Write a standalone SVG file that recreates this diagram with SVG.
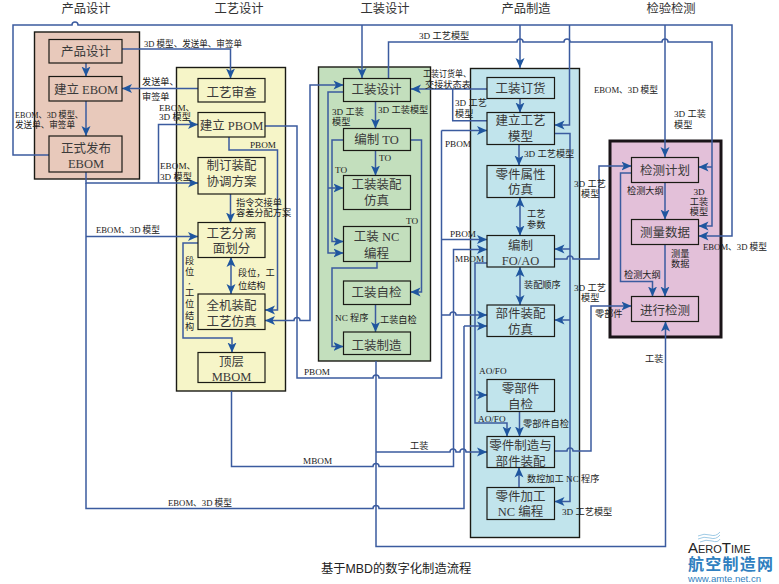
<svg xmlns="http://www.w3.org/2000/svg" width="779" height="584" viewBox="0 0 779 584">
<style>
text{font-family:"Liberation Serif","Noto Sans CJK SC",serif;fill:#2a2a2a}
.h{font-size:12.300px;text-anchor:middle;fill:#333}
.n{font-size:12.500px;text-anchor:middle;fill:#3a3a3a}
.l{font-size:9.200px;fill:#222}
.c{text-anchor:middle}
.box{stroke:#1a1a14;stroke-width:1.2}
.lane{stroke:#1a1a14;stroke-width:1.4}
.w{fill:none;stroke:#3b5b9f;stroke-width:1.500}
.a{marker-end:url(#ah)}
.b{marker-end:url(#ah);marker-start:url(#ahs)}
</style>
<defs>
<marker id="ah" markerUnits="userSpaceOnUse" markerWidth="11" markerHeight="10" refX="10" refY="5" orient="auto"><path d="M0 .5L10 5L0 9.500L2.500 5z" fill="#1f569f"/></marker>
<marker id="ahs" markerUnits="userSpaceOnUse" markerWidth="11" markerHeight="10" refX="0" refY="5" orient="auto"><path d="M10 .5L0 5L10 9.500L7.500 5z" fill="#1f569f"/></marker>
</defs>
<rect width="779" height="584" fill="#fff"/>
<g id="headers">
<text class="h" x="86" y="13">产品设计</text><text class="h" x="239" y="13">工艺设计</text><text class="h" x="385" y="13">工装设计</text><text class="h" x="526" y="13">产品制造</text><text class="h" x="671" y="13">检验检测</text>
</g>
<g id="lanes">
<rect class="lane" x="34.500" y="32" width="105" height="147" fill="#e8c9bb"/>
<rect class="lane" x="176.500" y="67.500" width="109" height="323.500" fill="#f6f5c8"/>
<rect class="lane" x="318.500" y="67" width="112" height="294" fill="#c3dfbd"/>
<rect class="lane" x="470.500" y="68.500" width="109" height="469" fill="#c1e4ec"/>
<rect x="610" y="141" width="111" height="196" fill="#e3c0d9" stroke="#1a1418" stroke-width="3"/>
</g>
<g id="connectors">
<path class="w a" d="M49 155H13V25H72a3 3 0 0 1 6 0H732V236H698.500"/>
<path class="w a" d="M362 25V78"/><path class="w a" d="M520 25V68"/><path class="w a" d="M569.500 25V125H554.500"/><path class="w a" d="M665 25V157"/>
<path class="w a" d="M388.500 78V42H517a3 3 0 0 1 6 0H564a3 3 0 0 1 6 0H662a3 3 0 0 1 6 0H712V226H698.500"/>
<path class="w a" d="M712 167H698.500"/>
<path class="w a" d="M86 63V76.500"/><path class="w a" d="M86 101V136"/>
<path class="w a" d="M122 49H230.500V78.500"/><path class="w a" d="M198 88.500H122"/>
<path class="w a" d="M86 172V183H198"/><path class="w a" d="M158.500 183V124.500H198"/><path class="w a" d="M86 236.500H198"/>
<path class="w" d="M86 183V508.500H373a3 3 0 0 1 6 0H464V326"/><path class="w a" d="M464 326H487"/>
<path class="w" d="M265 126H297V378H373a3 3 0 0 1 6 0H441.500V130.500"/><path class="w a" d="M441.500 130.500H487"/><path class="w a" d="M441.500 239.500H487"/>
<path class="w a" d="M441.500 315H450a3 3 0 0 1 6 0H487"/>
<path class="w a" d="M229 137V150H277.500V310H265"/>
<path class="w a" d="M230.500 194V222.500"/><path class="w b" d="M231 257V294"/>
<path class="w a" d="M198 243H183V338H232V352.500"/>
<path class="w b" d="M343.500 85H310V320.500H300a3 3 0 0 0 -6 0H265"/>
<path class="w a" d="M375.500 101V128.500"/><path class="w a" d="M375.500 150.500V175.500"/><path class="w a" d="M375.500 304.500V332"/>
<path class="w a" d="M377 261.500V268H332V346.500H343.500"/>
<path class="w a" d="M343.500 92H328V253H343.500"/><path class="w a" d="M328 188H343.500"/>
<path class="w a" d="M343.500 140H332V241.500H343.500"/>
<path class="w a" d="M410.500 140H421.500V292H410.500"/>
<path class="w a" d="M376 361V546.500H665.500V321.500"/>
<path class="w a" d="M376 452H450a3 3 0 0 1 6 0H460a3 3 0 0 1 6 0H487"/>
<path class="w a" d="M231.500 391V466.500H373a3 3 0 0 1 6 0H453.500V249.500H487"/>
<path class="w a" d="M487 89H411"/><path class="w" d="M452.700 89V120.700H487"/>
<path class="w a" d="M520 98.500V112.500"/><path class="w a" d="M519 144.500V165.500"/><path class="w b" d="M520 197.500V235.500"/><path class="w b" d="M520 305V267"/>
<path class="w a" d="M519.500 411.500V436.500"/><path class="w a" d="M519 487.500V467.500"/>
<path class="w a" d="M554.500 133.500H570V501.500H554.500"/><path class="w a" d="M570 249H554.500"/><path class="w a" d="M570 320H554.500"/>
<path class="w a" d="M554.500 259H567a3 3 0 0 1 6 0H599V166H631.500"/>
<path class="w a" d="M554.500 451H567a3 3 0 0 1 6 0H591V306H631.500"/>
<path class="w a" d="M487 263H475V423H507V436.500"/><path class="w a" d="M475 395H487"/>
<path class="w a" d="M665 182.500V219.500"/><path class="w a" d="M665 244.500V296.500"/>
<path class="w a" d="M631.500 173H620.500V281.500H652.500V296.500"/>
</g>
<g id="product-nodes">
<g id="n-pd"><rect class="box" x="49" y="39.500" width="73" height="23.500" fill="#e8c9bb"/><text class="n" x="86" y="56.400">产品设计</text></g>
<g id="n-ebom"><rect class="box" x="49" y="76.500" width="73" height="24.500" fill="#e8c9bb"/><text class="n" x="86" y="93.700">建立 EBOM</text></g>
<g id="n-release"><rect class="box" x="49" y="136" width="73" height="36" fill="#e8c9bb"/><text class="n" x="86" y="153">正式发布</text><text class="n" x="86" y="168">EBOM</text></g>
</g>
<g id="process-nodes">
<g id="n-review"><rect class="box" x="198" y="78.500" width="67" height="23.500" fill="#f6f5c8"/><text class="n" x="231.500" y="97.400">工艺审查</text></g>
<g id="n-pbom"><rect class="box" x="198" y="112.500" width="67" height="24.500" fill="#f6f5c8"/><text class="n" x="231.500" y="130.400">建立 PBOM</text></g>
<g id="n-plan"><rect class="box" x="198" y="157.500" width="67" height="36.500" fill="#f6f5c8"/><text class="n" x="231.500" y="170.400">制订装配</text><text class="n" x="231.500" y="186.400">协调方案</text></g>
<g id="n-sep"><rect class="box" x="198" y="222.500" width="67" height="35" fill="#f6f5c8"/><text class="n" x="231.500" y="238">工艺分离</text><text class="n" x="231.500" y="253">面划分</text></g>
<g id="n-sim"><rect class="box" x="198" y="294" width="67" height="35.500" fill="#f6f5c8"/><text class="n" x="231.500" y="309.700">全机装配</text><text class="n" x="231.500" y="326.400">工艺仿真</text></g>
<g id="n-mbom"><rect class="box" x="198" y="352.500" width="67" height="30" fill="#f6f5c8"/><text class="n" x="231.500" y="365.700">顶层</text><text class="n" x="231.500" y="381">MBOM</text></g>
</g>
<g id="tooling-nodes">
<g id="n-tdesign"><rect class="box" x="343.500" y="78.500" width="67" height="23" fill="#c3dfbd"/><text class="n" x="376.500" y="94">工装设计</text></g>
<g id="n-to"><rect class="box" x="343.500" y="128.500" width="67" height="22" fill="#c3dfbd"/><text class="n" x="376.500" y="143.700">编制 TO</text></g>
<g id="n-tsim"><rect class="box" x="343.500" y="175.500" width="67" height="34" fill="#c3dfbd"/><text class="n" x="376.500" y="188.700">工装装配</text><text class="n" x="376.500" y="204.700">仿真</text></g>
<g id="n-tnc"><rect class="box" x="343.500" y="226.500" width="67" height="35" fill="#c3dfbd"/><text class="n" x="376.500" y="241.400">工装 NC</text><text class="n" x="376.500" y="258">编程</text></g>
<g id="n-tcheck"><rect class="box" x="343.500" y="281" width="67" height="23.500" fill="#c3dfbd"/><text class="n" x="376.500" y="297">工装自检</text></g>
<g id="n-tmake"><rect class="box" x="343.500" y="332" width="67" height="22.500" fill="#c3dfbd"/><text class="n" x="376.500" y="350.400">工装制造</text></g>
</g>
<g id="mfg-nodes">
<g id="n-order"><rect class="box" x="487" y="77.500" width="67.500" height="21" fill="#c1e4ec"/><text class="n" x="520.500" y="93">工装订货</text></g>
<g id="n-model"><rect class="box" x="487" y="112.500" width="67.500" height="32" fill="#c1e4ec"/><text class="n" x="520.500" y="125.400">建立工艺</text><text class="n" x="520.500" y="140.700">模型</text></g>
<g id="n-attr"><rect class="box" x="487" y="165.500" width="67.500" height="32" fill="#c1e4ec"/><text class="n" x="520.500" y="178.700">零件属性</text><text class="n" x="520.500" y="194">仿真</text></g>
<g id="n-fo"><rect class="box" x="487" y="235.500" width="67.500" height="31.500" fill="#c1e4ec"/><text class="n" x="520.500" y="250.400">编制</text><text class="n" x="520.500" y="264.500">FO/AO</text></g>
<g id="n-asm"><rect class="box" x="487" y="305" width="67.500" height="31.500" fill="#c1e4ec"/><text class="n" x="520.500" y="318">部件装配</text><text class="n" x="520.500" y="334">仿真</text></g>
<g id="n-self"><rect class="box" x="487" y="379.500" width="67.500" height="32" fill="#c1e4ec"/><text class="n" x="520.500" y="393">零部件</text><text class="n" x="520.500" y="408.700">自检</text></g>
<g id="n-make"><rect class="box" x="487" y="436.500" width="67.500" height="31" fill="#c1e4ec"/><text class="n" x="520.500" y="449.700">零件制造与</text><text class="n" x="520.500" y="465.700">部件装配</text></g>
<g id="n-nc"><rect class="box" x="487" y="487.500" width="67.500" height="32" fill="#c1e4ec"/><text class="n" x="520.500" y="501.400">零件加工</text><text class="n" x="520.500" y="516.400">NC 编程</text></g>
</g>
<g id="inspect-nodes">
<g id="n-iplan"><rect class="box" x="631.500" y="157.500" width="67" height="25" fill="#e3c0d9"/><text class="n" x="665" y="174.700">检测计划</text></g>
<g id="n-data"><rect class="box" x="631.500" y="219.500" width="67" height="25" fill="#e3c0d9"/><text class="n" x="665" y="237">测量数据</text></g>
<g id="n-do"><rect class="box" x="631.500" y="296.500" width="67" height="25" fill="#e3c0d9"/><text class="n" x="665" y="314.700">进行检测</text></g>
</g>
<g id="labels">
<text class="l" x="144" y="47" textLength="98" lengthAdjust="spacingAndGlyphs">3D 模型、发送单、审签单</text>
<text class="l" x="142" y="85">发送单、</text><text class="l" x="142" y="100">审签单</text>
<text class="l" x="15" y="118" textLength="68" lengthAdjust="spacingAndGlyphs">EBOM、3D 模型、</text><text class="l" x="15" y="128" textLength="60" lengthAdjust="spacingAndGlyphs">发送单、审签单</text>
<text class="l" x="159" y="111">EBOM、</text><text class="l" x="159" y="120">3D 模型</text>
<text class="l" x="250" y="148">PBOM</text>
<text class="l" x="160" y="169">EBOM、</text><text class="l" x="160" y="180">3D 模型</text>
<text class="l" x="236" y="206">指令交接单</text><text class="l" x="236" y="216">容差分配方案</text>
<text class="l" x="96" y="233" textLength="64" lengthAdjust="spacingAndGlyphs">EBOM、3D 模型</text>
<text class="l" x="238" y="276">段位，工</text><text class="l" x="238" y="289">位结构</text>
<text class="l c" x="189.500" y="264">段</text><text class="l c" x="189.500" y="275">位</text><text class="l c" x="189.500" y="284">,</text><text class="l c" x="189.500" y="296">工</text><text class="l c" x="189.500" y="307">位</text><text class="l c" x="189.500" y="319">结</text><text class="l c" x="189.500" y="330">构</text>
<text class="l" x="304" y="375">PBOM</text><text class="l" x="303" y="464">MBOM</text>
<text class="l" x="168" y="506" textLength="64" lengthAdjust="spacingAndGlyphs">EBOM、3D 模型</text>
<text class="l" x="419" y="39">3D 工艺模型</text>
<text class="l" x="423" y="77" textLength="48" lengthAdjust="spacingAndGlyphs">工装订货单、</text><text class="l" x="425" y="88">交接状态表</text>
<text class="l" x="455" y="106">3D 工艺</text><text class="l" x="455" y="117">模型</text>
<text class="l" x="332" y="115">3D 工装</text><text class="l" x="332" y="125">模型</text>
<text class="l" x="378" y="113">3D 工装模型</text>
<text class="l" x="379" y="161">TO</text><text class="l" x="335" y="173">TO</text><text class="l" x="406" y="224">TO</text>
<text class="l" x="445" y="147">PBOM</text><text class="l" x="524" y="157">3D 工艺模型</text>
<text class="l" x="527" y="217">工艺</text><text class="l" x="527" y="228">参数</text>
<text class="l" x="450" y="237">PBOM</text><text class="l" x="455" y="262">MBOM</text>
<text class="l" x="524" y="288">装配顺序</text>
<text class="l" x="335" y="321">NC 程序</text><text class="l" x="380" y="323">工装自检</text>
<text class="l" x="479" y="374">AO/FO</text><text class="l" x="478" y="422">AO/FO</text>
<text class="l" x="523" y="427">零部件自检</text><text class="l" x="410" y="449">工装</text>
<text class="l" x="527" y="482">数控加工 NC 程序</text><text class="l" x="562" y="515">3D 工艺模型</text>
<text class="l" x="594" y="93" textLength="64" lengthAdjust="spacingAndGlyphs">EBOM、3D 模型</text>
<text class="l" x="674" y="117">3D 工装</text><text class="l" x="674" y="128">模型</text>
<text class="l" x="574" y="187">3D 工艺</text><text class="l" x="581" y="197">模型</text>
<text class="l" x="574" y="291">3D 工艺</text><text class="l" x="581" y="301">模型</text>
<text class="l" x="595" y="317">零部件</text><text class="l" x="627" y="194">检测大纲</text>
<text class="l c" x="699" y="195">3D</text><text class="l c" x="699" y="205">工装</text><text class="l c" x="699" y="215">模型</text>
<text class="l" x="703" y="250" textLength="64" lengthAdjust="spacingAndGlyphs">EBOM、3D 模型</text>
<text class="l" x="671" y="257">测量</text><text class="l" x="671" y="267">数据</text>
<text class="l" x="624" y="278">检测大纲</text><text class="l" x="645" y="362">工装</text>
</g>
<text x="321" y="573" style="font-family:'Liberation Sans','Noto Sans CJK SC',sans-serif;font-size:12.300px;fill:#222">基于MBD的数字化制造流程</text>
<g id="logo">
<path d="M698 536q6-3 12-1t10-3M698 539q6-3 12-1t10-3M700 542q6-3 12-1t8-2" fill="none" stroke="#9fcbe6" stroke-width="1"/>
<text x="688" y="553" style="font-family:'Liberation Sans',sans-serif;font-variant:small-caps;font-size:15px;fill:#222">AeroTime</text>
<text x="688" y="569.500" textLength="85" style="font-family:'Liberation Sans','Noto Sans CJK SC',sans-serif;font-weight:700;font-size:16px;fill:#2f7fc0">航空制造网</text>
<text x="688" y="581.500" style="font-family:'Liberation Sans',sans-serif;font-size:9.600px;fill:#2f7fc0">www.amte.net.cn</text>
</g>
</svg>
